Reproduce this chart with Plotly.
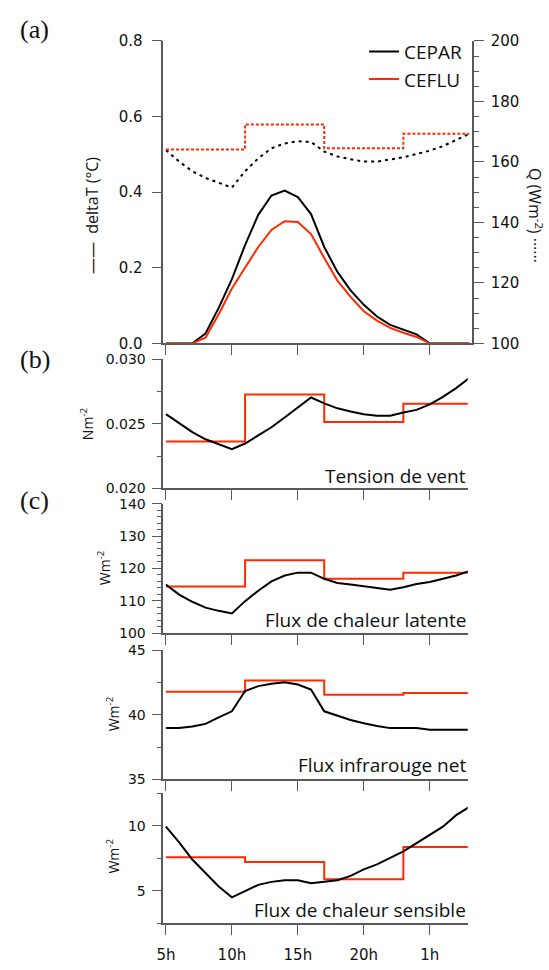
import plotly.graph_objects as go

# ---------------- data ----------------
hours = list(range(5, 29))          # 5h .. 4h next day
tick_hours = [5, 10, 15, 20, 25]
tick_labels = ["5h", "10h", "15h", "20h", "1h"]
block_start = [5, 11, 17, 23]       # CEFLU 6-hour blocks
block_end = 28

# (a) deltaT (°C)
dT_cepar = [0, 0, 0, 0.026, 0.094, 0.170, 0.260, 0.340, 0.391, 0.404, 0.387, 0.342,
            0.255, 0.189, 0.140, 0.102, 0.071, 0.049, 0.036, 0.024, 0, 0, 0, 0]
dT_ceflu = [0, 0, 0, 0.015, 0.077, 0.145, 0.200, 0.255, 0.300, 0.323, 0.321, 0.289,
            0.226, 0.166, 0.123, 0.085, 0.060, 0.041, 0.028, 0.017, 0, 0, 0, 0]
# (a) Q (W m-2)
Q_cepar = [163.9, 160.1, 156.9, 154.7, 153.1, 151.5, 156.9, 161.2, 164.5, 166.1, 166.8, 166.6,
           163.4, 161.8, 160.9, 160.1, 160.1, 160.7, 161.5, 162.6, 163.7, 165.2, 167.2, 169.3]
Q_ceflu = [164.1, 172.4, 164.5, 169.3]

# (b) wind stress (N m-2)
tau_cepar = [0.02575, 0.02506, 0.02435, 0.02380, 0.02342, 0.02304, 0.02347, 0.02413,
             0.02473, 0.02549, 0.02625, 0.02704, 0.02658, 0.02620, 0.02595, 0.02575,
             0.02562, 0.02562, 0.02587, 0.02608, 0.02651, 0.02709, 0.02777, 0.02856]
tau_ceflu = [0.02362, 0.02727, 0.02514, 0.02656]

# (c) latent heat flux (W m-2)
lh_cepar = [115.0, 111.9, 109.7, 107.9, 106.9, 106.1, 109.9, 113.1, 116.0, 117.8, 118.7, 118.7,
            116.8, 115.5, 115.0, 114.4, 113.9, 113.4, 114.2, 115.2, 115.8, 116.8, 117.8, 119.2]
lh_ceflu = [114.4, 122.5, 116.8, 118.7]

# (c) net infrared flux (W m-2)
ir_cepar = [38.97, 38.97, 39.10, 39.30, 39.80, 40.27, 41.84, 42.22, 42.40, 42.52, 42.34, 41.96,
            40.27, 39.94, 39.60, 39.35, 39.13, 38.97, 38.97, 38.97, 38.85, 38.85, 38.85, 38.85]
ir_ceflu = [41.78, 42.65, 41.56, 41.68]

# (c) sensible heat flux (W m-2)
sh_cepar = [9.92, 8.71, 7.40, 6.34, 5.33, 4.49, 5.00, 5.45, 5.68, 5.81, 5.81, 5.58,
            5.68, 5.81, 6.14, 6.64, 7.02, 7.53, 8.03, 8.66, 9.29, 9.92, 10.81, 11.44]
sh_ceflu = [7.58, 7.20, 5.88, 8.36]

# ---------------- style ----------------
W, H = 549, 970
BLACK = "#000000"
RED = "#ff2a00"
AXC = "#5a5a5a"
FONT = "DejaVu Sans"
TFONT = "Open Sans"
PX_PER_H = 13.36
X0_PX = 161.0          # pixel of 5h


def xrange_for(left_px, right_px):
    return [5 + (left_px - X0_PX) / PX_PER_H, 5 + (right_px - X0_PX) / PX_PER_H]


def ydom(top_px, bot_px):
    return [1 - bot_px / H, 1 - top_px / H]


def step_x():
    return block_start + [block_end]


def step_y(vals):
    return list(vals) + [vals[-1]]


fig = go.Figure()

# panel (a)
fig.add_trace(go.Scatter(x=hours, y=dT_cepar, mode="lines", name="CEPAR",
                         line=dict(color=BLACK, width=2), xaxis="x", yaxis="y"))
fig.add_trace(go.Scatter(x=hours, y=dT_ceflu, mode="lines", name="CEFLU",
                         line=dict(color=RED, width=2), xaxis="x", yaxis="y"))
fig.add_trace(go.Scatter(x=hours, y=Q_cepar, mode="lines", showlegend=False,
                         line=dict(color=BLACK, width=2, dash="3px,4px"), xaxis="x", yaxis="y2"))
fig.add_trace(go.Scatter(x=step_x(), y=step_y(Q_ceflu), mode="lines", showlegend=False,
                         line=dict(color=RED, width=2, dash="3px,2px", shape="hv"),
                         xaxis="x", yaxis="y2"))

panels = [
    ("x2", "y3", tau_cepar, tau_ceflu),
    ("x3", "y4", lh_cepar, lh_ceflu),
    ("x4", "y5", ir_cepar, ir_ceflu),
    ("x5", "y6", sh_cepar, sh_ceflu),
]
for xa, ya, blk, red in panels:
    fig.add_trace(go.Scatter(x=step_x(), y=step_y(red), mode="lines", showlegend=False,
                             line=dict(color=RED, width=2, shape="hv"), xaxis=xa, yaxis=ya))
    fig.add_trace(go.Scatter(x=hours, y=blk, mode="lines", showlegend=False,
                             line=dict(color=BLACK, width=2), xaxis=xa, yaxis=ya))


def tfont(size):
    return dict(family=FONT, size=size, color="#111111")


def xaxis(anchor, labels, right_px):
    return dict(domain=[158.3 / W, right_px / W], range=xrange_for(158.3, right_px),
                anchor=anchor, showgrid=False, zeroline=False,
                showline=True, linecolor=AXC, linewidth=1.5, ticks="outside", ticklen=10,
                tickwidth=1.2, tickcolor=AXC, tickmode="array", tickvals=tick_hours,
                ticktext=tick_labels, showticklabels=labels, tickfont=tfont(15),
                ticklabelstandoff=7, fixedrange=True)


def yaxis(anchor, dom, rng, dtick, fmt, size, standoff, minor=None, side="left"):
    d = dict(domain=dom, range=rng, anchor=anchor, side=side, showgrid=False, zeroline=False,
             showline=True, linecolor=AXC, linewidth=1.5, ticks="outside", ticklen=10,
             tickwidth=1.2, tickcolor=AXC, dtick=dtick, tick0=0, tickformat=fmt,
             tickfont=tfont(size), ticklabelstandoff=standoff, fixedrange=True)
    if minor:
        d["minor"] = dict(dtick=minor, tick0=0, ticks="outside", ticklen=5,
                          tickwidth=1.2, tickcolor=AXC, showgrid=False)
    return d


dom_a = ydom(32.5, 340.7)
dom_b = ydom(357, 488.3)
dom_c1 = ydom(504, 636)
dom_c2 = ydom(653.3, 785)
dom_c3 = ydom(799, 931.5)

layout = dict(
    width=W, height=H, margin=dict(l=0, r=0, t=0, b=0),
    paper_bgcolor="white", plot_bgcolor="white",
    xaxis=xaxis("y", False, 471),
    yaxis=yaxis("x", dom_a, [0, 0.8], 0.2, ".1f", 15, 6),
    yaxis2=yaxis("x", dom_a, [100, 200], 20, "d", 15, 4, minor=5, side="right"),
    xaxis2=xaxis("y3", False, 466.7),
    yaxis3=yaxis("x2", dom_b, [0.020, 0.030], 0.005, ".3f", 14, 3, minor=0.0025),
    xaxis3=xaxis("y4", False, 466.7),
    yaxis4=yaxis("x3", dom_c1, [100, 140], 10, "d", 14, 3, minor=2),
    xaxis4=xaxis("y5", False, 466.7),
    yaxis5=yaxis("x4", dom_c2, [35, 45], 5, "d", 14, 3, minor=2.5),
    xaxis5=xaxis("y6", True, 466.7),
    yaxis6=yaxis("x5", dom_c3, [2.5, 12.5], 5, "d", 14, 3, minor=2.5),
    showlegend=True,
    legend=dict(x=466 / W, xanchor="right", y=1 - 24 / H, yanchor="top",
                bgcolor="rgba(0,0,0,0)", borderwidth=0, tracegroupgap=0,
                font=dict(family=TFONT, size=19, color="#111111"), itemwidth=30),
)
layout["yaxis2"]["overlaying"] = "y"
fig.update_layout(**layout)


def ann(text, x_px, y_px, size, xanchor="center", angle=0, family=TFONT, color="#111111"):
    fig.add_annotation(text=text, x=x_px / W, y=1 - y_px / H, xref="paper", yref="paper",
                       xanchor=xanchor, yanchor="middle", showarrow=False, textangle=angle,
                       font=dict(family=family, size=size, color=color))


serif = "Liberation Serif"
ann("(a)", 11, 21, 26, xanchor="left", family=serif)
ann("(b)", 11, 357, 26, xanchor="left", family=serif)
ann("(c)", 11, 501, 26, xanchor="left", family=serif)

ann("——  deltaT (°C)", 86, 210, 16, angle=-90)
ann("Q (Wm<sup>-2</sup>) ······", 535, 210, 16, angle=90)
ann("Nm<sup>-2</sup>", 81, 422, 14, angle=-90)
ann("Wm<sup>-2</sup>", 99, 569, 14, angle=-90)
ann("Wm<sup>-2</sup>", 107, 718, 14, angle=-90)
ann("Wm<sup>-2</sup>", 107, 863, 14, angle=-90)

ann("Tension de vent", 467, 476, 19, xanchor="right")
ann("Flux de chaleur latente", 467, 623, 19, xanchor="right")
ann("Flux infrarouge net", 467, 770, 19, xanchor="right")
ann("Flux de chaleur sensible", 467, 918, 19, xanchor="right")

fig.write_html(
    "out.html",
    config={"displayModeBar": False},
    post_script="document.body.style.margin='0';document.body.style.overflow='hidden';",
)
